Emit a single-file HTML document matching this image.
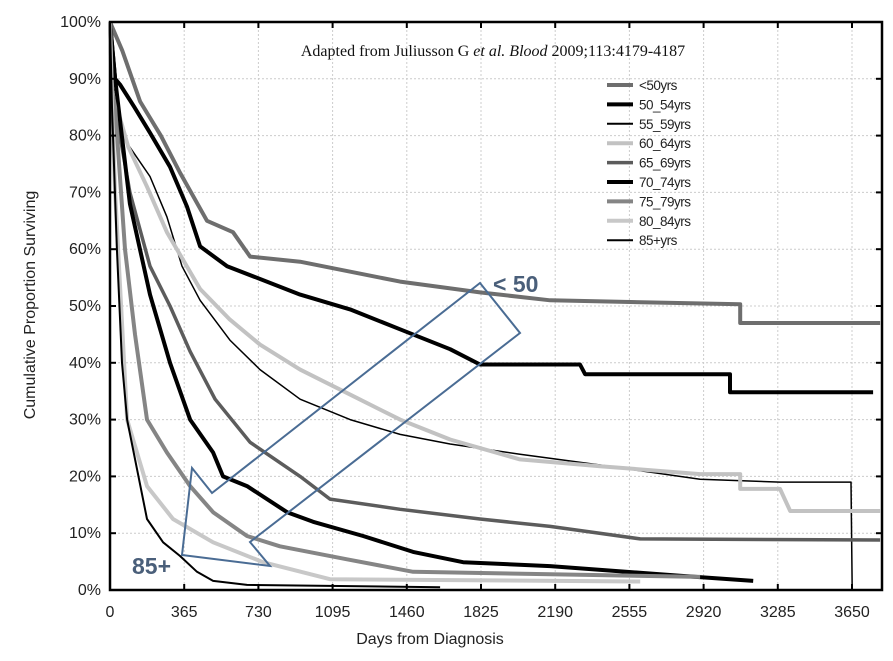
<!DOCTYPE html>
<html><head><meta charset="utf-8"><style>
body{margin:0;background:#fff;width:893px;height:661px;overflow:hidden}
svg{display:block}
text{font-family:"Liberation Sans",Arial,sans-serif}
</style></head><body>
<svg id="chart" width="893" height="661" viewBox="0 0 893 661" xmlns="http://www.w3.org/2000/svg">
<g id="grid"></g>
<g id="series"></g>
<rect x="110" y="22" width="772" height="568" fill="none" stroke="#000" stroke-width="2.5"/>
<g id="ticks"></g>
<text x="493" y="56" text-anchor="middle" font-size="16" fill="#111" style="font-family:'Liberation Serif',serif">Adapted from Juliusson G <tspan font-style="italic">et al.</tspan> <tspan font-style="italic">Blood</tspan> 2009;113:4179-4187</text>
<g id="legend"></g>
<text x="430" y="644" text-anchor="middle" font-size="16" fill="#222">Days from Diagnosis</text>
<text transform="translate(35,305) rotate(-90)" text-anchor="middle" font-size="16" fill="#222">Cumulative Proportion Surviving</text>
<g>
<polygon points="480,283 520,333 250,542 270,566 182,555 192,468 212,493" fill="none" stroke="#4a6c94" stroke-width="2"/>
<text x="493" y="292" font-size="23" font-weight="bold" fill="#4a5f7a">&lt; 50</text>
<text x="132" y="574" font-size="23" font-weight="bold" fill="#4a5f7a">85+</text>
</g>
</svg>
<script>
const xTicks=[0,365,730,1095,1460,1825,2190,2555,2920,3285,3650];
const yTicks=[0,10,20,30,40,50,60,70,80,90,100];
const seriesNames=["<50yrs","50_54yrs","55_59yrs","60_64yrs","65_69yrs","70_74yrs","75_79yrs","80_84yrs","85+yrs"];
const sU50=[[0,100],[60,95],[148,86],[250,80],[344,73.5],[477,65],[605,63],[689,58.7],[935,57.8],[1427,54.3],[1820,52.4],[2165,51],[3100,50.3],[3100,47],[3788,47]];
const s50=[[0,100],[25,90],[49,89],[120,85],[197,80.5],[295,74.5],[379,67.5],[443,60.5],[576,57],[935,52],[1181,49.4],[1427,45.9],[1673,42.4],[1820,39.7],[2312,39.7],[2337,38],[3050,38],[3050,34.8],[3754,34.8]];
const s55=[[0,100],[10,90],[49,80.5],[197,72.8],[280,65.7],[354,57],[443,51],[590,44],[738,38.8],[935,33.6],[1181,30],[1427,27.4],[1673,25.7],[2017,23.9],[2411,22],[2903,19.5],[3296,19],[3645,19],[3651,0]];
const s60=[[0,100],[10,88],[90,78],[182,71],[280,63],[443,53],[590,47.6],[738,43.2],[935,38.8],[1181,34.4],[1427,30],[1673,26.5],[2017,23],[2411,21.8],[2903,20.4],[3100,20.4],[3100,17.8],[3296,17.8],[3346,13.9],[3788,13.9]];
const s65=[[0,100],[10,88],[98,70],[197,57],[295,50],[394,42],[517,33.6],[689,26],[935,20],[1082,16],[1427,14.2],[1820,12.5],[2165,11.2],[2608,9],[3788,8.8]];
const s70=[[0,100],[25,90],[98,68],[197,52],[295,40],[394,30],[507,24.2],[556,20],[674,18.3],[871,13.7],[999,12],[1245,9.5],[1491,6.7],[1737,4.9],[2165,4.2],[2804,2.5],[3164,1.6]];
const s75=[[0,100],[10,88],[25,85],[74,60],[123,45],[182,30],[280,24.2],[394,18.3],[507,13.7],[674,9.5],[836,7.7],[1166,5.4],[1491,3.2],[2903,2.3]];
const s80=[[0,100],[10,85],[25,70],[84,30],[182,18.3],[310,12.5],[507,8.4],[753,4.9],[1082,1.9],[2608,1.5]];
const s85=[[0,100],[10,85],[34,60],[59,40],[84,30],[182,12.5],[261,8.4],[344,6],[428,3.2],[507,1.6],[674,0.9],[1624,0.5]];
const seriesData=[sU50,s50,s55,s60,s65,s70,s75,s80,s85];
const styles=[["#6e6e6e",4],["#000",4],["#000",1.5],["#c2c2c2",4],["#5c5c5c",3.5],["#000",4],["#858585",4],["#c8c8c8",4],["#000",2]];
const NS="http://www.w3.org/2000/svg";
const X0=110,XR=882,YT=22,YB=590;
function xs(d){return X0+d*74.2/365;}
function ys(p){return YB-p*(YB-YT)/100;}
function mk(t,a,p){const e=document.createElementNS(NS,t);for(const k in a)e.setAttribute(k,a[k]);p.appendChild(e);return e;}
const grid=document.getElementById('grid'),ticks=document.getElementById('ticks');
xTicks.forEach(d=>{const x=xs(d);
 if(d>0){const g=mk('line',{x1:x,x2:x,y1:YT,y2:YB,stroke:'#ccc','stroke-dasharray':'2,2'},grid);
 
 }
 const t1=mk('line',{x1:x,x2:x,y1:YB,y2:YB-6,stroke:'#000','stroke-width':2},ticks);
 
 
 const t2=mk('line',{x1:x,x2:x,y1:YT,y2:YT+6,stroke:'#000','stroke-width':2},ticks);
 
 
 const l=mk('text',{x:x,y:617,'text-anchor':'middle','font-size':16,fill:'#222'},ticks);l.textContent=d;
 
 
});
yTicks.forEach(p=>{const y=ys(p);
 if(p>0&&p<100){const g=mk('line',{x1:X0,x2:XR,y1:y,y2:y,stroke:'#ccc','stroke-dasharray':'2,2'},grid);
 
 }
 const t1=mk('line',{x1:X0,x2:X0+6,y1:y,y2:y,stroke:'#000','stroke-width':2},ticks);
 
 
 const t2=mk('line',{x1:XR,x2:XR-6,y1:y,y2:y,stroke:'#000','stroke-width':2},ticks);
 
 
 const l=mk('text',{x:101,y:y+5,'text-anchor':'end','font-size':16,fill:'#222'},ticks);l.textContent=p+'%';
 
 
});
const sg=document.getElementById('series');
seriesData.forEach((s,i)=>{
 const pts=s.map(q=>xs(q[0]).toFixed(1)+','+ys(q[1]).toFixed(1)).join(' ');
 const pl=mk('polyline',{points:pts,fill:'none',stroke:styles[i][0],'stroke-width':styles[i][1],'stroke-linejoin':'round'},sg);
 
 
});
const lg=document.getElementById('legend');
seriesNames.forEach((n,i)=>{const y=85+i*19.4;
 const ln=mk('line',{x1:607,x2:633,y1:y,y2:y,stroke:styles[i][0],'stroke-width':Math.max(styles[i][1],2)},lg);
 
 
 const t=mk('text',{x:639,y:y+5,'font-size':13.5,fill:'#222','letter-spacing':'-0.5'},lg);t.textContent=n;
 
 
});
</script>
</body></html>
